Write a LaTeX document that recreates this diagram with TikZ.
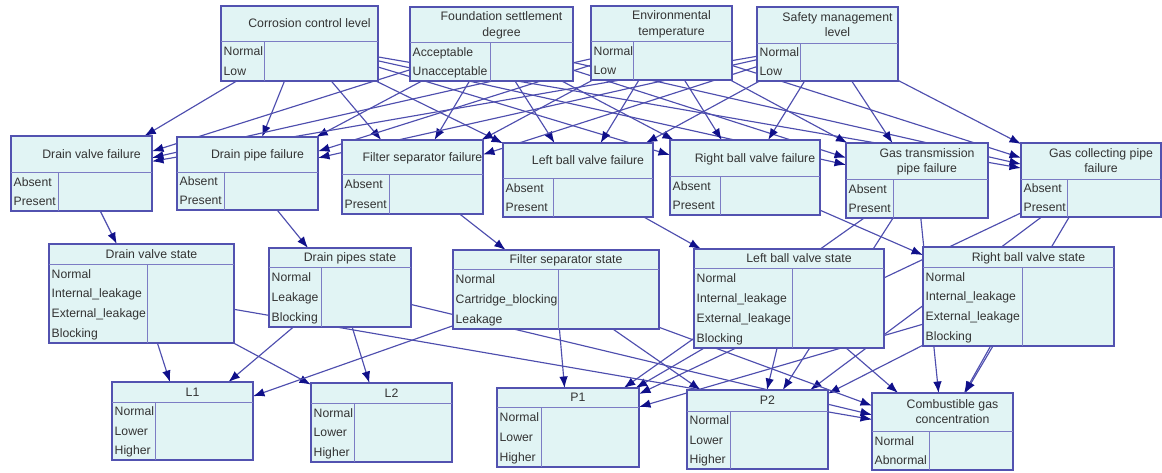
\documentclass[tikz,border=0pt]{standalone}
\usepackage{fontspec}
\setmainfont{Liberation Sans}
\usetikzlibrary{arrows.meta}
\pgfdeclarelayer{bg}
\pgfsetlayers{bg,main}

\definecolor{boxfill}{HTML}{E1F4F4}
\definecolor{boxline}{HTML}{5252B0}
\definecolor{innerline}{HTML}{7C7CC4}
\definecolor{edgeline}{HTML}{4E4EAE}
\definecolor{tipcol}{HTML}{10108A}
\definecolor{txt}{HTML}{333333}

\newcommand\tstrut{\vrule width 0pt height 9pt depth 2.6pt}

\tikzset{
  bnbox/.style={draw=boxline, fill=boxfill, line width=1.4pt, inner sep=0pt, outer sep=0pt},
  bninner/.style={draw=innerline, line width=0.9pt},
  bntitle/.style={font=\fontsize{12.3}{15.5}\selectfont, text=txt, align=center, inner sep=0pt},
  bnstate/.style={font=\fontsize{12.2}{15}\selectfont, text=txt, anchor=base west, inner sep=0pt},
  bnedge/.style={draw=edgeline, line width=1.15pt, -{Latex[length=11.5pt,width=8.5pt,color=tipcol]}},
}

% #1 name, #2-#5 box corners, #6 title rule (y), #7 state column rule (x), #8 title, #9 states
\newcommand\bnnode[9]{%
  \pgfmathsetmacro\bnw{#4-#2}%
  \pgfmathsetmacro\bnh{#5-#3}%
  \node[bnbox, minimum width=\bnw pt, minimum height=\bnh pt] (#1) at ({(#2+#4)/2},{(#3+#5)/2}) {};
  \draw[bninner] (#2,#6) -- (#4,#6) (#7,#6) -- (#7,#5);
  \node[bntitle] at ({(#2+#4)/2+10},{(#3+#6)/2+1}) {\tstrut #8};
  \foreach \s [count=\k] in {#9} {\xdef\bncount{\k}}%
  \pgfmathsetmacro\bnrow{(#5-#6)/\bncount}%
  \foreach \s [count=\k] in {#9} {
    \node[bnstate] at ({#2+2.5},{#6+(\k-0.5)*\bnrow+4.3}) {\s};
  }
}

\begin{document}
\begin{tikzpicture}[x=1pt,y=-1pt]
\useasboundingbox (0,0) rectangle (1162,472);

% root factors
\bnnode{cc}{221}{6}{378}{81}{41}{264}{Corrosion control level}{Normal,Low}
\bnnode{fs}{410}{7}{573}{81}{42}{490}{Foundation settlement\\\tstrut degree}{Acceptable,Unacceptable}
\bnnode{et}{591}{6}{732}{80}{41}{633}{Environmental\\\tstrut temperature}{Normal,Low}
\bnnode{sm}{757}{7}{898}{81}{43}{800}{Safety management\\\tstrut level}{Normal,Low}

% component failures
\bnnode{dvf}{11}{136}{152}{211}{172}{58}{Drain valve failure}{Absent,Present}
\bnnode{dpf}{177}{137}{318}{210}{172}{224}{Drain pipe failure}{Absent,Present}
\bnnode{fsf}{342}{140}{483}{214}{174}{389}{Filter separator failure}{Absent,Present}
\bnnode{lbvf}{503}{143}{653}{217}{178}{553}{Left ball valve failure}{Absent,Present}
\bnnode{rbvf}{670}{140}{820}{215}{176}{720}{Right ball valve failure}{Absent,Present}
\bnnode{gtpf}{846}{143}{988}{218}{179}{893}{Gas transmission\\\tstrut pipe failure}{Absent,Present}
\bnnode{gcpf}{1021}{143}{1161}{217}{179}{1067}{Gas collecting pipe\\\tstrut failure}{Absent,Present}

% component states
\bnnode{dvs}{49}{244}{234}{343}{264}{147}{Drain valve state}{Normal,Internal\_leakage,External\_leakage,Blocking}
\bnnode{dps}{269}{248}{411}{327}{267}{321}{Drain pipes state}{Normal,Leakage,Blocking}
\bnnode{fss}{453}{250}{659}{329}{269}{558}{Filter separator state}{Normal,Cartridge\_blocking,Leakage}
\bnnode{lbvs}{694}{249}{884}{348}{268}{792}{Left ball valve state}{Normal,Internal\_leakage,External\_leakage,Blocking}
\bnnode{rbvs}{923}{247}{1114}{346}{267}{1022}{Right ball valve state}{Normal,Internal\_leakage,External\_leakage,Blocking}

% observations
\bnnode{l1}{112}{382}{253}{460}{402}{155}{L1}{Normal,Lower,Higher}
\bnnode{l2}{311}{383}{452}{462}{403}{354}{L2}{Normal,Lower,Higher}
\bnnode{p1}{497}{388}{639}{467}{407}{541}{P1}{Normal,Lower,Higher}
\bnnode{p2}{687}{390}{828}{469}{411}{730}{P2}{Normal,Lower,Higher}
\bnnode{cgc}{872}{393}{1013}{470}{431}{929}{Combustible gas\\\tstrut concentration}{Normal,Abnormal}

% arcs, drawn beneath the boxes
\begin{pgfonlayer}{bg}
  \foreach \r in {cc,fs,et,sm}
    \foreach \f in {dvf,dpf,fsf,lbvf,rbvf,gtpf,gcpf}
      \draw[bnedge] (\r) -- (\f);
  \draw[bnedge] (dvf) -- (dvs);
  \draw[bnedge] (dpf) -- (dps);
  \draw[bnedge] (fsf) -- (fss);
  \draw[bnedge] (lbvf) -- (lbvs);
  \draw[bnedge] (rbvf) -- (rbvs);
  \foreach \t in {p1,p2,cgc} {
    \draw[bnedge] (gtpf) -- (\t);
    \draw[bnedge] (gcpf) -- (\t);
    \draw[bnedge] (lbvs) -- (\t);
    \draw[bnedge] (rbvs) -- (\t);
    \draw[bnedge] (fss) -- (\t);
  }
  \foreach \t in {l1,l2,cgc} {
    \draw[bnedge] (dvs) -- (\t);
    \draw[bnedge] (dps) -- (\t);
  }
  \draw[bnedge] (fss) -- (l1);
\end{pgfonlayer}
\end{tikzpicture}
\end{document}
